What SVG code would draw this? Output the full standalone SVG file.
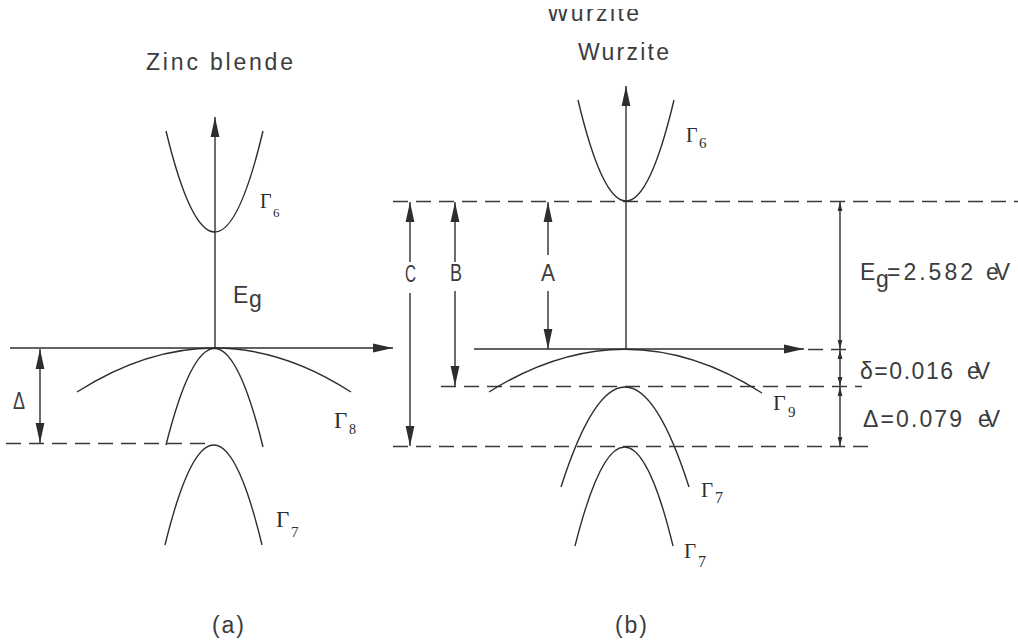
<svg xmlns="http://www.w3.org/2000/svg" width="1018" height="643" viewBox="0 0 1018 643">
<style>
.ln{stroke:#2e2e2e;stroke-width:1.4;fill:none}
.ds{stroke:#3a3a3a;stroke-width:1.5;fill:none;stroke-dasharray:15 8}
.t{font-family:"Liberation Sans",Arial,sans-serif;fill:#3c3c3c;font-size:23px}
.g{font-family:"Liberation Serif","Times New Roman",serif;fill:#2e2e2e}
</style>
<defs>
<marker id="ah" markerUnits="userSpaceOnUse" markerWidth="22" markerHeight="12" refX="20" refY="5" orient="auto-start-reverse"><path d="M0,0.6 L20,5 L0,9.4 Z" fill="#2e2e2e"/></marker>
<marker id="sm" markerUnits="userSpaceOnUse" markerWidth="10" markerHeight="8" refX="9" refY="3" orient="auto-start-reverse"><path d="M0,0.6 L9,3 L0,5.4 Z" fill="#2e2e2e"/></marker>
<clipPath id="topclip"><rect x="0" y="9" width="1018" height="30"/></clipPath>
</defs>
<rect width="1018" height="643" fill="#fff"/>

<g id="titles">
<text class="t" x="547" y="21" textLength="92" clip-path="url(#topclip)">Wurzite</text>
<text class="t" x="146" y="70" textLength="147">Zinc blende</text>
<text class="t" x="578" y="60" textLength="91">Wurzite</text>
<text class="t" x="212" y="633" textLength="32">(a)</text>
<text class="t" x="615" y="633" textLength="32">(b)</text>
</g>

<g id="connectors">
<line class="ln" x1="215" y1="348" x2="215" y2="117" marker-end="url(#ah)"/>
<line class="ln" x1="10" y1="348" x2="393" y2="348" marker-end="url(#ah)"/>
<line class="ln" x1="40" y1="349" x2="40" y2="443" marker-start="url(#ah)" marker-end="url(#ah)"/>
<line class="ds" x1="6" y1="443.5" x2="213" y2="443.5"/>
<line class="ln" x1="626" y1="349" x2="626" y2="86" marker-end="url(#ah)"/>
<line class="ln" x1="474" y1="349" x2="804" y2="349" marker-end="url(#ah)"/>
<line class="ds" x1="808" y1="349.5" x2="853" y2="349.5"/>
<line class="ds" x1="393" y1="201.5" x2="1018" y2="201.5"/>
<line class="ds" x1="441" y1="386.5" x2="862" y2="386.5"/>
<line class="ds" x1="393" y1="446.5" x2="868" y2="446.5"/>
<line class="ln" x1="410" y1="262" x2="410" y2="202" marker-end="url(#ah)"/>
<line class="ln" x1="410" y1="293" x2="410" y2="446" marker-end="url(#ah)"/>
<line class="ln" x1="455" y1="262" x2="455" y2="202" marker-end="url(#ah)"/>
<line class="ln" x1="455" y1="291" x2="455" y2="386" marker-end="url(#ah)"/>
<line class="ln" x1="548" y1="255" x2="548" y2="202" marker-end="url(#ah)"/>
<line class="ln" x1="548" y1="291" x2="548" y2="349" marker-end="url(#ah)"/>
<line class="ln" x1="840" y1="202" x2="840" y2="349" marker-start="url(#sm)" marker-end="url(#sm)"/>
<line class="ln" x1="840" y1="350" x2="840" y2="386" marker-start="url(#sm)" marker-end="url(#sm)"/>
<line class="ln" x1="840" y1="387" x2="840" y2="446" marker-start="url(#sm)" marker-end="url(#sm)"/>
</g>

<g id="bands-a">
<path class="ln" d="M166,131 Q215,333 263,131"/>
<path class="ln" d="M77,392 Q215,304 351,392"/>
<path class="ln" d="M166,445 Q215,251 263,447"/>
<path class="ln" d="M165,545 Q214,345 262,545"/>
</g>

<g id="bands-b">
<path class="ln" d="M578,100 Q626,302 674,100"/>
<path class="ln" d="M489,392 Q626,306 762,393"/>
<path class="ln" d="M561,487 Q625,287 689,487"/>
<path class="ln" d="M575,546 Q625,348 673,546"/>
</g>

<g id="labels-a">
<text class="g" x="260" y="208" font-size="20">Γ</text><text class="g" x="273" y="217" font-size="13">6</text>
<text class="t" x="233" y="303">E</text><text class="t" x="249" y="307" font-size="16">g</text>
<text class="t" x="13" y="409" font-size="21" textLength="12" lengthAdjust="spacingAndGlyphs">Δ</text>
<text class="g" x="334" y="428" font-size="23">Γ</text><text class="g" x="349" y="434" font-size="14">8</text>
<text class="g" x="276" y="527" font-size="23">Γ</text><text class="g" x="291" y="537" font-size="15">7</text>
</g>

<g id="labels-b">
<text class="g" x="686" y="142" font-size="20">Γ</text><text class="g" x="699" y="148" font-size="15">6</text>
<text class="t" x="405" y="282" font-size="20" textLength="11" lengthAdjust="spacingAndGlyphs">C</text>
<text class="t" x="450" y="281" font-size="20" textLength="12" lengthAdjust="spacingAndGlyphs">B</text>
<text class="t" x="541" y="281" font-size="20" textLength="14" lengthAdjust="spacingAndGlyphs">A</text>
<text class="g" x="773" y="410" font-size="22">Γ</text><text class="g" x="788" y="417" font-size="15">9</text>
<text class="g" x="701" y="497" font-size="21">Γ</text><text class="g" x="715" y="503" font-size="16">7</text>
<text class="g" x="684" y="558" font-size="21">Γ</text><text class="g" x="698" y="567" font-size="16">7</text>
<text class="t" x="860" y="280">E</text><text class="t" x="876" y="287" font-size="17">g</text>
<text class="t" x="887" y="280" textLength="86">=2.582</text>
<text class="t" x="986" y="280" font-size="22" textLength="24">eV</text>
<text class="t" x="860" y="379" font-size="22" textLength="93">δ=0.016</text>
<text class="t" x="967" y="379" font-size="22" textLength="23">eV</text>
<text class="t" x="863" y="427" font-size="22" textLength="99">Δ=0.079</text>
<text class="t" x="978" y="427" font-size="22" textLength="22">eV</text>
</g>
</svg>
